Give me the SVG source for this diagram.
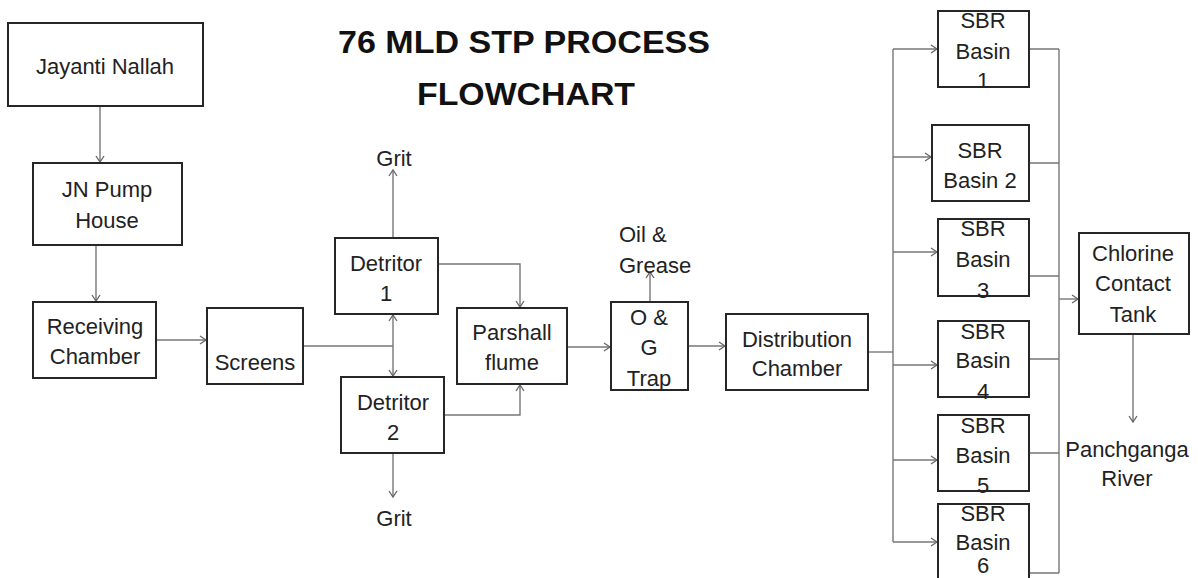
<svg xmlns="http://www.w3.org/2000/svg" width="1198" height="578" viewBox="0 0 1198 578">
<defs>
<marker id="ah" markerWidth="10" markerHeight="10" refX="8" refY="5" orient="auto" markerUnits="userSpaceOnUse">
<path d="M2,1 L8,5 L2,9" fill="none" stroke="#666" stroke-width="1.3"/>
</marker>
<style>
.box{fill:#fff;stroke:#262626;stroke-width:2}
.t{font-family:"Liberation Sans",Arial,sans-serif;font-size:22px;fill:#222;text-anchor:middle}
.ttl{font-family:"Liberation Sans",Arial,sans-serif;font-size:32px;font-weight:bold;fill:#111;text-anchor:middle}
.c{fill:none;stroke:#777;stroke-width:1.4}
.a{marker-end:url(#ah)}
</style>
</defs>
<rect width="1198" height="578" fill="#fff"/>
<g id="title">
<text class="ttl" x="524" y="53" textLength="372" lengthAdjust="spacingAndGlyphs">76 MLD STP PROCESS</text>
<text class="ttl" x="526" y="105" textLength="218" lengthAdjust="spacingAndGlyphs">FLOWCHART</text>
</g>
<g id="connectors">
<path class="c a" d="M100,106 V162"/>
<path class="c a" d="M96,245 V301"/>
<path class="c a" d="M156,340 H206"/>
<path class="c" d="M303,346 H393"/>
<path class="c a" d="M393,346 V315"/>
<path class="c a" d="M393,346 V376"/>
<path class="c a" d="M393,238 V170"/>
<path class="c a" d="M393,453 V497"/>
<path class="c a" d="M438,264 H520 V307"/>
<path class="c a" d="M444,415 H520 V385"/>
<path class="c a" d="M567,347 H610"/>
<path class="c a" d="M650,302 V272"/>
<path class="c a" d="M688,346 H725"/>
<path class="c" d="M868,352 H893"/>
<path class="c" d="M893,49 V542"/>
<path class="c a" d="M893,49 H937"/>
<path class="c a" d="M893,157 H931"/>
<path class="c a" d="M893,252 H937"/>
<path class="c a" d="M893,365 H937"/>
<path class="c a" d="M893,460 H937"/>
<path class="c a" d="M893,542 H937"/>
<path class="c" d="M1029,49 H1059 M1029,163 H1059 M1029,276 H1059 M1029,359 H1059 M1029,453 H1059 M1029,573 H1059"/>
<path class="c" d="M1059,49 V573"/>
<path class="c a" d="M1059,299 H1078"/>
<path class="c a" d="M1133,334 V422"/>
</g>
<g id="jayanti">
<rect class="box" x="8" y="23" width="195" height="83"/>
<text class="t" x="105" y="74">Jayanti Nallah</text>
</g>
<g id="jnpump">
<rect class="box" x="33" y="163" width="149" height="82"/>
<text class="t" x="107" y="197">JN Pump</text>
<text class="t" x="107" y="228">House</text>
</g>
<g id="receiving">
<rect class="box" x="33" y="302" width="123" height="76"/>
<text class="t" x="95" y="334">Receiving</text>
<text class="t" x="95" y="364">Chamber</text>
</g>
<g id="screens">
<rect class="box" x="207" y="308" width="96" height="76"/>
<text class="t" x="255" y="370">Screens</text>
</g>
<g id="detritor1">
<rect class="box" x="335" y="238" width="103" height="76"/>
<text class="t" x="386" y="271">Detritor</text>
<text class="t" x="386" y="301">1</text>
</g>
<g id="detritor2">
<rect class="box" x="341" y="377" width="103" height="76"/>
<text class="t" x="393" y="410">Detritor</text>
<text class="t" x="393" y="440">2</text>
</g>
<g id="grit1"><text class="t" x="394" y="166">Grit</text></g>
<g id="grit2"><text class="t" x="394" y="526">Grit</text></g>
<g id="parshall">
<rect class="box" x="457" y="308" width="110" height="76"/>
<text class="t" x="512" y="340">Parshall</text>
<text class="t" x="512" y="370">flume</text>
</g>
<g id="ogtrap">
<rect class="box" x="611" y="302" width="77" height="88"/>
<text class="t" x="649" y="325">O &amp;</text>
<text class="t" x="649" y="355">G</text>
<text class="t" x="649" y="386">Trap</text>
</g>
<g id="oilgrease">
<text class="t" x="619" y="242" style="text-anchor:start">Oil &amp;</text>
<text class="t" x="619" y="273" style="text-anchor:start">Grease</text>
</g>
<g id="distribution">
<rect class="box" x="726" y="314" width="142" height="76"/>
<text class="t" x="797" y="347">Distribution</text>
<text class="t" x="797" y="376">Chamber</text>
</g>
<g id="sbr1">
<rect class="box" x="938" y="11" width="91" height="76"/>
<text class="t" x="983" y="28">SBR</text>
<text class="t" x="983" y="59">Basin</text>
<text class="t" x="983" y="88">1</text>
</g>
<g id="sbr2">
<rect class="box" x="932" y="125" width="97" height="76"/>
<text class="t" x="980" y="158">SBR</text>
<text class="t" x="980" y="188">Basin 2</text>
</g>
<g id="sbr3">
<rect class="box" x="938" y="219" width="91" height="77"/>
<text class="t" x="983" y="236">SBR</text>
<text class="t" x="983" y="267">Basin</text>
<text class="t" x="983" y="298">3</text>
</g>
<g id="sbr4">
<rect class="box" x="938" y="321" width="91" height="76"/>
<text class="t" x="983" y="339">SBR</text>
<text class="t" x="983" y="368">Basin</text>
<text class="t" x="983" y="399">4</text>
</g>
<g id="sbr5">
<rect class="box" x="938" y="415" width="91" height="76"/>
<text class="t" x="983" y="433">SBR</text>
<text class="t" x="983" y="463">Basin</text>
<text class="t" x="983" y="493">5</text>
</g>
<g id="sbr6">
<rect class="box" x="938" y="504" width="91" height="80"/>
<text class="t" x="983" y="521">SBR</text>
<text class="t" x="983" y="550">Basin</text>
<text class="t" x="983" y="573">6</text>
</g>
<g id="chlorine">
<rect class="box" x="1079" y="233" width="110" height="101"/>
<text class="t" x="1133" y="261">Chlorine</text>
<text class="t" x="1133" y="291">Contact</text>
<text class="t" x="1133" y="322">Tank</text>
</g>
<g id="panchganga">
<text class="t" x="1127" y="457">Panchganga</text>
<text class="t" x="1127" y="486">River</text>
</g>
</svg>
